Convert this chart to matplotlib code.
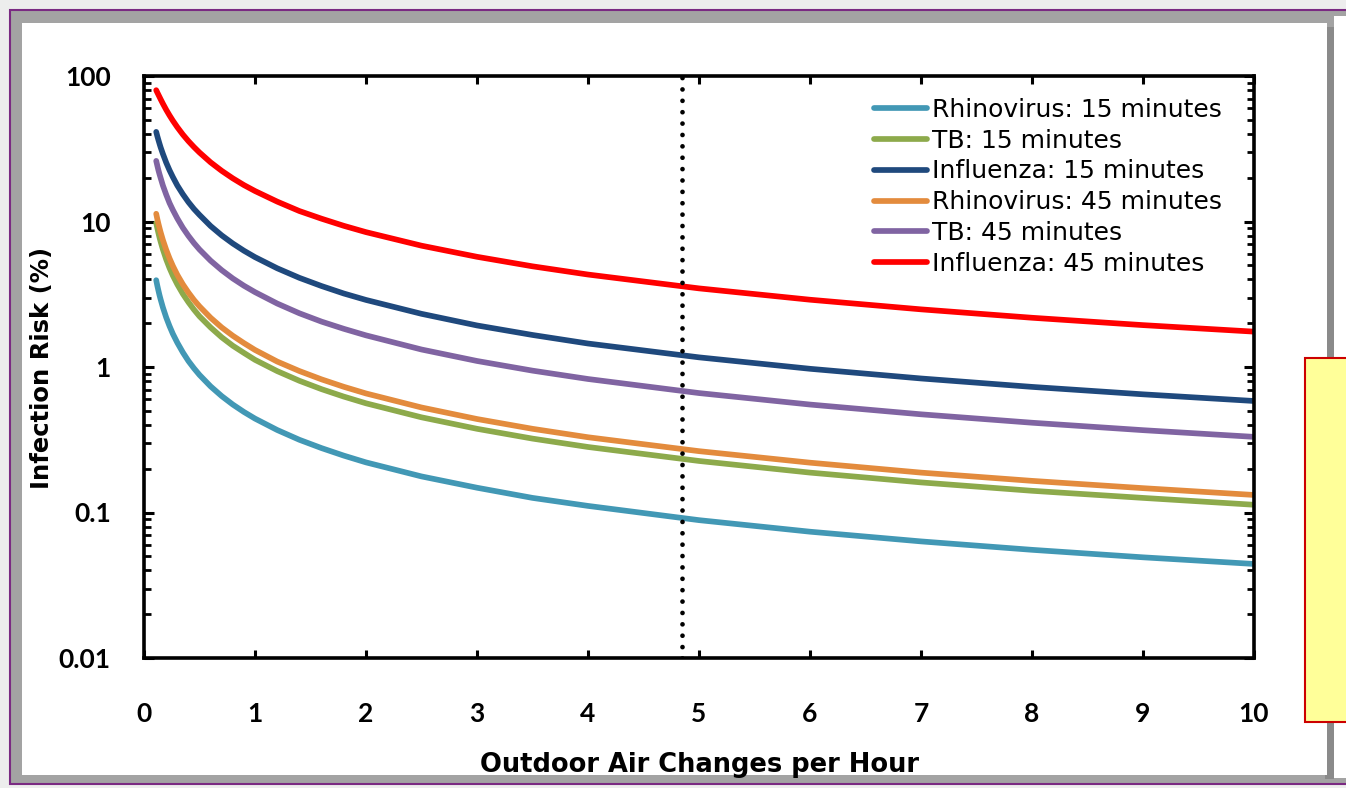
import matplotlib
matplotlib.use("Agg")
import matplotlib.pyplot as plt
from matplotlib.patches import Rectangle
from matplotlib.ticker import LogLocator, NullFormatter, FixedLocator

# values (infection risk in %)
ach = [0.11, 0.12, 0.13, 0.14, 0.15, 0.17, 0.2, 0.23, 0.26, 0.3, 0.35, 0.4, 0.45, 0.5,
       0.6, 0.7, 0.8, 0.9, 1, 1.2, 1.4, 1.6, 1.8, 2, 2.5, 3, 3.5, 4, 5, 6, 7, 8, 9, 10]

rhino_15 = [3.95, 3.62, 3.35, 3.11, 2.91, 2.57, 2.19, 1.91, 1.69, 1.47, 1.26, 1.10, 0.980, 0.882,
            0.736, 0.631, 0.552, 0.491, 0.442, 0.369, 0.316, 0.277, 0.246, 0.221, 0.177, 0.148,
            0.126, 0.111, 0.0886, 0.0738, 0.0633, 0.0554, 0.0492, 0.0443]
tb_15 = [9.76, 8.99, 8.33, 7.75, 7.26, 6.43, 5.49, 4.79, 4.25, 3.70, 3.18, 2.79, 2.48, 2.23,
         1.87, 1.60, 1.40, 1.25, 1.12, 0.937, 0.804, 0.704, 0.626, 0.563, 0.451, 0.376,
         0.322, 0.282, 0.226, 0.188, 0.161, 0.141, 0.126, 0.113]
flu_15 = [41.3, 38.6, 36.3, 34.2, 32.3, 29.2, 25.4, 22.5, 20.2, 17.7, 15.4, 13.6, 12.2, 11.1,
          9.31, 8.03, 7.06, 6.30, 5.69, 4.77, 4.10, 3.60, 3.20, 2.89, 2.32, 1.93,
          1.66, 1.45, 1.165, 0.972, 0.834, 0.730, 0.649, 0.584]
rhino_45 = [11.3, 10.4, 9.65, 9.00, 8.42, 7.47, 6.39, 5.58, 4.95, 4.30, 3.70, 3.25, 2.89, 2.61,
            2.18, 1.87, 1.64, 1.46, 1.31, 1.09, 0.938, 0.822, 0.731, 0.658, 0.527, 0.439,
            0.376, 0.329, 0.264, 0.220, 0.188, 0.165, 0.147, 0.132]
tb_45 = [26.1, 24.2, 22.5, 21.1, 19.9, 17.7, 15.3, 13.4, 12.0, 10.5, 9.05, 7.97, 7.11, 6.42,
         5.38, 4.63, 4.06, 3.62, 3.27, 2.73, 2.34, 2.05, 1.83, 1.65, 1.319, 1.10,
         0.944, 0.827, 0.662, 0.552, 0.473, 0.414, 0.368, 0.331]
flu_45 = [79.9, 77.0, 74.3, 71.7, 69.2, 64.6, 58.6, 53.6, 49.3, 44.5, 39.6, 35.7, 32.5, 29.8,
          25.5, 22.3, 19.8, 17.8, 16.2, 13.7, 11.8, 10.45, 9.34, 8.45, 6.82, 5.72,
          4.92, 4.32, 3.47, 2.90, 2.49, 2.18, 1.94, 1.75]

labels = ["Rhinovirus: 15 minutes", "TB: 15 minutes", "Influenza: 15 minutes",
          "Rhinovirus: 45 minutes", "TB: 45 minutes", "Influenza: 45 minutes"]
series = [rhino_15, tb_15, flu_15, rhino_45, tb_45, flu_45]
marker_ach = 4.85

x_ticks = list(range(0, 11))
y_ticks = [0.01, 0.1, 1, 10, 100]
y_tick_labels = ["0.01", "0.1", "1", "10", "100"]

colors = ["#4298B5", "#8DAA4B", "#1F497D", "#E38B3D", "#8064A2", "#FF0000"]

plt.rcParams['font.family'] = ['Lato', 'DejaVu Sans']

W, H = 1346, 788
fig = plt.figure(figsize=(W / 100, H / 100), dpi=100)
fig.patch.set_facecolor("#EDEDED")


def px_rect(x0, y0, x1, y1, **kw):
    # rectangle given in pixel coords (origin top-left)
    r = Rectangle((x0 / W, 1 - y1 / H), (x1 - x0) / W, (y1 - y0) / H,
                  transform=fig.transFigure, **kw)
    fig.patches.append(r)
    return r


# slide-like frame around the chart
px_rect(10, 10, 1420, 784, facecolor="#A3A3A3", edgecolor="#7A2A82", lw=1.5, zorder=-10)
px_rect(1334, 16, 1346, 778, facecolor="white", edgecolor="none", zorder=-9)
px_rect(1325, 27, 1334, 779, facecolor="#8A8A8A", edgecolor="none", zorder=-9)
px_rect(22, 23, 1327, 775, facecolor="white", edgecolor="none", zorder=-8)
px_rect(1305, 358, 1400, 722, facecolor="#FFFF99", edgecolor="#CC0000", lw=1.5, zorder=5)

ax = fig.add_axes([144 / W, 1 - 658 / H, (1254 - 144) / W, (658 - 76) / H])

for vals, lab, col in zip(series, labels, colors):
    ax.plot(ach, vals, color=col, lw=4.1, label=lab, solid_capstyle="round",
            solid_joinstyle="round")

ax.axvline(marker_ach, color="black", lw=3.4, linestyle=(0, (0.01, 2.4)),
           dash_capstyle="round")

ax.set_yscale("log")
ax.set_xlim(0, 10)
ax.set_ylim(0.01, 100)

ax.xaxis.set_major_locator(FixedLocator(x_ticks))
ax.set_xticklabels([str(t) for t in x_ticks])
ax.yaxis.set_major_locator(FixedLocator(y_ticks))
ax.set_yticklabels(y_tick_labels)
ax.yaxis.set_minor_locator(LogLocator(base=10, subs=range(2, 10)))
ax.yaxis.set_minor_formatter(NullFormatter())

ax.tick_params(axis="x", which="major", direction="in", length=6, width=2.2,
               top=True, pad=32, labelsize=19)
ax.tick_params(axis="y", which="major", direction="in", length=7.5, width=2.2,
               right=True, pad=24, labelsize=19)
ax.tick_params(axis="y", which="minor", direction="in", length=5, width=2,
               right=True)
for lbl in ax.get_xticklabels() + ax.get_yticklabels():
    lbl.set_fontweight("bold")

for sp in ax.spines.values():
    sp.set_linewidth(2.6)

fig.text(42 / W, 1 - 368 / H, "Infection Risk (%)", rotation=90, ha="center",
         va="center", fontsize=17.5, fontweight="bold", family="DejaVu Sans")
fig.text(699 / W, 1 - 765 / H, "Outdoor Air Changes per Hour", ha="center",
         va="center", fontsize=18.5, fontweight="bold", family="DejaVu Sans")

ax.legend(loc="upper left", bbox_to_anchor=(874 / W, 1 - 98 / H),
          bbox_transform=fig.transFigure, frameon=False,
          prop={"family": "DejaVu Sans", "size": 18},
          handlelength=2.1, handletextpad=0.2, labelspacing=0.27,
          borderpad=0, borderaxespad=0)

fig.savefig("out.png", dpi=100, facecolor=fig.get_facecolor())
